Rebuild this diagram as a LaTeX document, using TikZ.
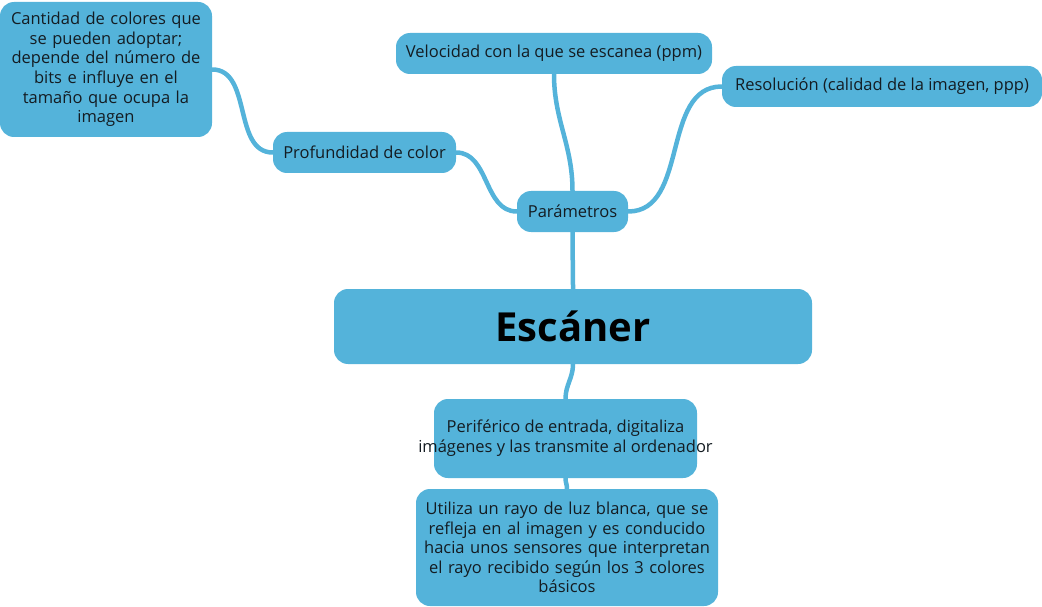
\documentclass[tikz,border=0pt]{standalone}
\usepackage{fontspec}
\setmainfont{Open Sans}
\usepackage{tikz}
\definecolor{mapblue}{RGB}{84,179,218}
\definecolor{maptext}{RGB}{20,28,34}
\tikzset{
	topic/.style={fill=mapblue,text=maptext,rounded corners=14pt,inner sep=0pt,align=center,font=\fontsize{16.5}{19.6}\selectfont},
	branch/.style={draw=mapblue,line width=4.5pt,line cap=round}
}

\begin{document}
\begin{tikzpicture}[x=1pt,y=1pt]
		\useasboundingbox (0,0) rectangle (1042,-607);
		\node[topic,minimum width=212pt,minimum height=135pt,text width=206pt] (cantidad) at (106,-69.5) {Cantidad de colores que\\se pueden adoptar;\\depende del número de\\bits e influye en el\\tamaño que ocupa la\\imagen};
		\node[topic,minimum width=183pt,minimum height=41pt] (profundidad) at (364.5,-152.5) {Profundidad de color};
		\node[topic,minimum width=316pt,minimum height=41pt] (velocidad) at (554,-53.5) {Velocidad con la que se escanea (ppm)};
		\node[topic,minimum width=320pt,minimum height=41pt] (resolucion) at (882,-86.5) {Resolución (calidad de la imagen, ppp)};
		\node[topic,minimum width=111pt,minimum height=41pt] (parametros) at (572.5,-211.5) {Parámetros};
		\node[topic,minimum width=478pt,minimum height=75pt,font=\fontsize{40}{44}\selectfont\bfseries,text=black] (escaner) at (573,-326.5) {Escáner};
		\node[topic,minimum width=263pt,minimum height=79pt] (periferico) at (565.5,-438.5) {\makebox[0pt]{\begin{tabular}{@{}c@{}}Periférico de entrada, digitaliza\\imágenes y las transmite al ordenador\end{tabular}}};
		\node[topic,minimum width=302pt,minimum height=117pt,text width=300pt] (utiliza) at (567,-547.5) {Utiliza un rayo de luz blanca, que se\\refleja en al imagen y es conducido\\hacia unos sensores que interpretan\\el rayo recibido según los 3 colores\\básicos};
		% ramas
		\draw[branch] (cantidad.east) to[out=0,in=180] (profundidad.west);
		\draw[branch] (profundidad.east) to[out=0,in=180] (parametros.west);
		\draw[branch] (velocidad.south) to[out=-90,in=90] (parametros.north);
		\draw[branch] (resolucion.west) to[out=180,in=0] (parametros.east);
		\draw[branch] (parametros.south) to[out=-90,in=90] (escaner.north);
		\draw[branch] (escaner.south) to[out=-90,in=90] (periferico.north);
		\draw[branch] (periferico.south) to[out=-90,in=90] (utiliza.north);
	\end{tikzpicture}
\end{document}
